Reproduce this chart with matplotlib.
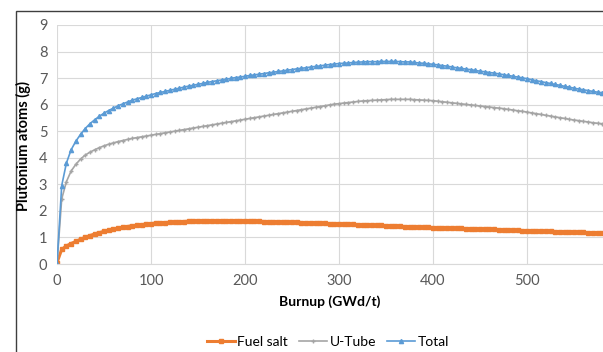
import matplotlib.pyplot as plt
from matplotlib.patches import Rectangle

# Burnup steps (GWd/t)
burnup = list(range(0, 585, 5))

fuel_salt = [
    0.05, 0.55, 0.68, 0.77, 0.85, 0.93, 1.00, 1.07, 1.13, 1.18,
    1.23, 1.27, 1.31, 1.35, 1.38, 1.41, 1.44, 1.46, 1.48, 1.50,
    1.52, 1.54, 1.55, 1.56, 1.57, 1.58, 1.59, 1.60, 1.61, 1.61,
    1.62, 1.62, 1.63, 1.63, 1.63, 1.63, 1.63, 1.63, 1.63, 1.62,
    1.62, 1.62, 1.61, 1.61, 1.60, 1.60, 1.59, 1.59, 1.58, 1.58,
    1.57, 1.57, 1.56, 1.55, 1.55, 1.54, 1.53, 1.53, 1.52, 1.51,
    1.51, 1.50, 1.49, 1.49, 1.48, 1.47, 1.47, 1.46, 1.45, 1.45,
    1.44, 1.43, 1.43, 1.42, 1.41, 1.41, 1.40, 1.39, 1.39, 1.38,
    1.37, 1.37, 1.36, 1.36, 1.35, 1.34, 1.34, 1.33, 1.33, 1.32,
    1.31, 1.31, 1.30, 1.30, 1.29, 1.28, 1.28, 1.27, 1.27, 1.26,
    1.26, 1.25, 1.24, 1.24, 1.23, 1.23, 1.22, 1.22, 1.21, 1.21,
    1.20, 1.19, 1.19, 1.18, 1.18, 1.17, 1.17,
]

u_tube = [
    0.00, 2.45, 3.10, 3.50, 3.75, 3.95, 4.10, 4.21, 4.30, 4.38,
    4.45, 4.51, 4.56, 4.61, 4.65, 4.69, 4.73, 4.76, 4.79, 4.82,
    4.85, 4.88, 4.91, 4.94, 4.97, 5.00, 5.03, 5.06, 5.09, 5.12,
    5.15, 5.18, 5.21, 5.24, 5.27, 5.30, 5.33, 5.36, 5.39, 5.42,
    5.45, 5.48, 5.51, 5.54, 5.57, 5.60, 5.63, 5.66, 5.69, 5.72,
    5.75, 5.78, 5.81, 5.84, 5.87, 5.90, 5.93, 5.96, 5.99, 6.02,
    6.04, 6.06, 6.08, 6.10, 6.12, 6.14, 6.15, 6.16, 6.17, 6.18,
    6.19, 6.20, 6.20, 6.20, 6.20, 6.20, 6.19, 6.18, 6.17, 6.16,
    6.15, 6.13, 6.11, 6.09, 6.07, 6.05, 6.03, 6.01, 5.99, 5.97,
    5.95, 5.93, 5.91, 5.89, 5.87, 5.85, 5.82, 5.80, 5.77, 5.75,
    5.72, 5.69, 5.66, 5.63, 5.60, 5.57, 5.54, 5.51, 5.48, 5.45,
    5.42, 5.40, 5.37, 5.35, 5.32, 5.30, 5.28,
]

total = [
    0.00, 2.95, 3.80, 4.30, 4.62, 4.88, 5.10, 5.28, 5.43, 5.56,
    5.68, 5.78, 5.87, 5.96, 6.03, 6.10, 6.17, 6.22, 6.27, 6.32,
    6.37, 6.42, 6.46, 6.50, 6.54, 6.58, 6.62, 6.66, 6.70, 6.73,
    6.77, 6.80, 6.84, 6.87, 6.90, 6.93, 6.96, 6.99, 7.02, 7.04,
    7.07, 7.10, 7.12, 7.15, 7.17, 7.20, 7.22, 7.25, 7.27, 7.30,
    7.32, 7.35, 7.37, 7.39, 7.42, 7.44, 7.46, 7.49, 7.51, 7.53,
    7.55, 7.56, 7.57, 7.59, 7.60, 7.61, 7.62, 7.62, 7.62, 7.63,
    7.63, 7.63, 7.63, 7.62, 7.61, 7.61, 7.59, 7.57, 7.56, 7.54,
    7.52, 7.50, 7.47, 7.45, 7.42, 7.39, 7.37, 7.34, 7.32, 7.29,
    7.26, 7.24, 7.21, 7.19, 7.16, 7.13, 7.10, 7.07, 7.04, 7.01,
    6.98, 6.94, 6.90, 6.87, 6.83, 6.80, 6.76, 6.73, 6.69, 6.66,
    6.62, 6.59, 6.56, 6.53, 6.50, 6.47, 6.45,
]

x_ticks = [0, 100, 200, 300, 400, 500]
y_ticks = list(range(0, 10))

W, H = 603, 352
fig = plt.figure(figsize=(W / 100, H / 100), dpi=100)
plt.rcParams['font.family'] = ['Lato', 'DejaVu Sans']

# chart frame (only the left/top part is visible in the crop)
fig.patches.append(Rectangle((16 / W, -0.2), 1.2, 1.2 - 11 / H, transform=fig.transFigure,
                             fill=False, edgecolor='#3f3f3f', linewidth=1.0))

# plot area: x=0 at px 57, 94 px per 100 GWd/t; y=0 at px 264, 9 at px 25
left = 57 / W
right = (57 + 6 * 94) / W
bottom = (H - 264) / H
top = (H - 25) / H
ax = fig.add_axes([left, bottom, right - left, top - bottom])

ax.plot(burnup, fuel_salt, color='#ED7D31', marker='s', markersize=3, linewidth=2.2, label='Fuel salt')
ax.plot(burnup, u_tube, color='#A5A5A5', marker='+', markersize=3.5, linewidth=1.2, label='U-Tube')
ax.plot(burnup, total, color='#5B9BD5', marker='^', markersize=3, linewidth=1.2, label='Total')

ax.set_xlim(0, 600)
ax.set_ylim(0, 9)
ax.set_xticks(x_ticks)
ax.set_yticks(y_ticks)
ax.grid(True, color='#D9D9D9', linewidth=0.8)
ax.set_axisbelow(True)
for s in ['top', 'right', 'left']:
    ax.spines[s].set_visible(False)
ax.spines['bottom'].set_color('#D9D9D9')
ax.tick_params(length=0, labelsize=10.5, labelcolor='#595959', pad=7)

fig.text(330 / W, 1 - 302 / H, 'Burnup (GWd/t)', ha='center', va='center',
         fontsize=10, fontweight='bold')
fig.text(23 / W, 1 - 146 / H, 'Plutonium atoms (g)', ha='center', va='center',
         rotation=90, fontsize=10.5, fontweight='bold')

fig.legend(loc='center', bbox_to_anchor=(328 / W, 1 - 342 / H), ncol=3, frameon=False,
           fontsize=10, handlelength=2.0, columnspacing=0.8, handletextpad=0.2)

fig.savefig('out.png', dpi=100)
